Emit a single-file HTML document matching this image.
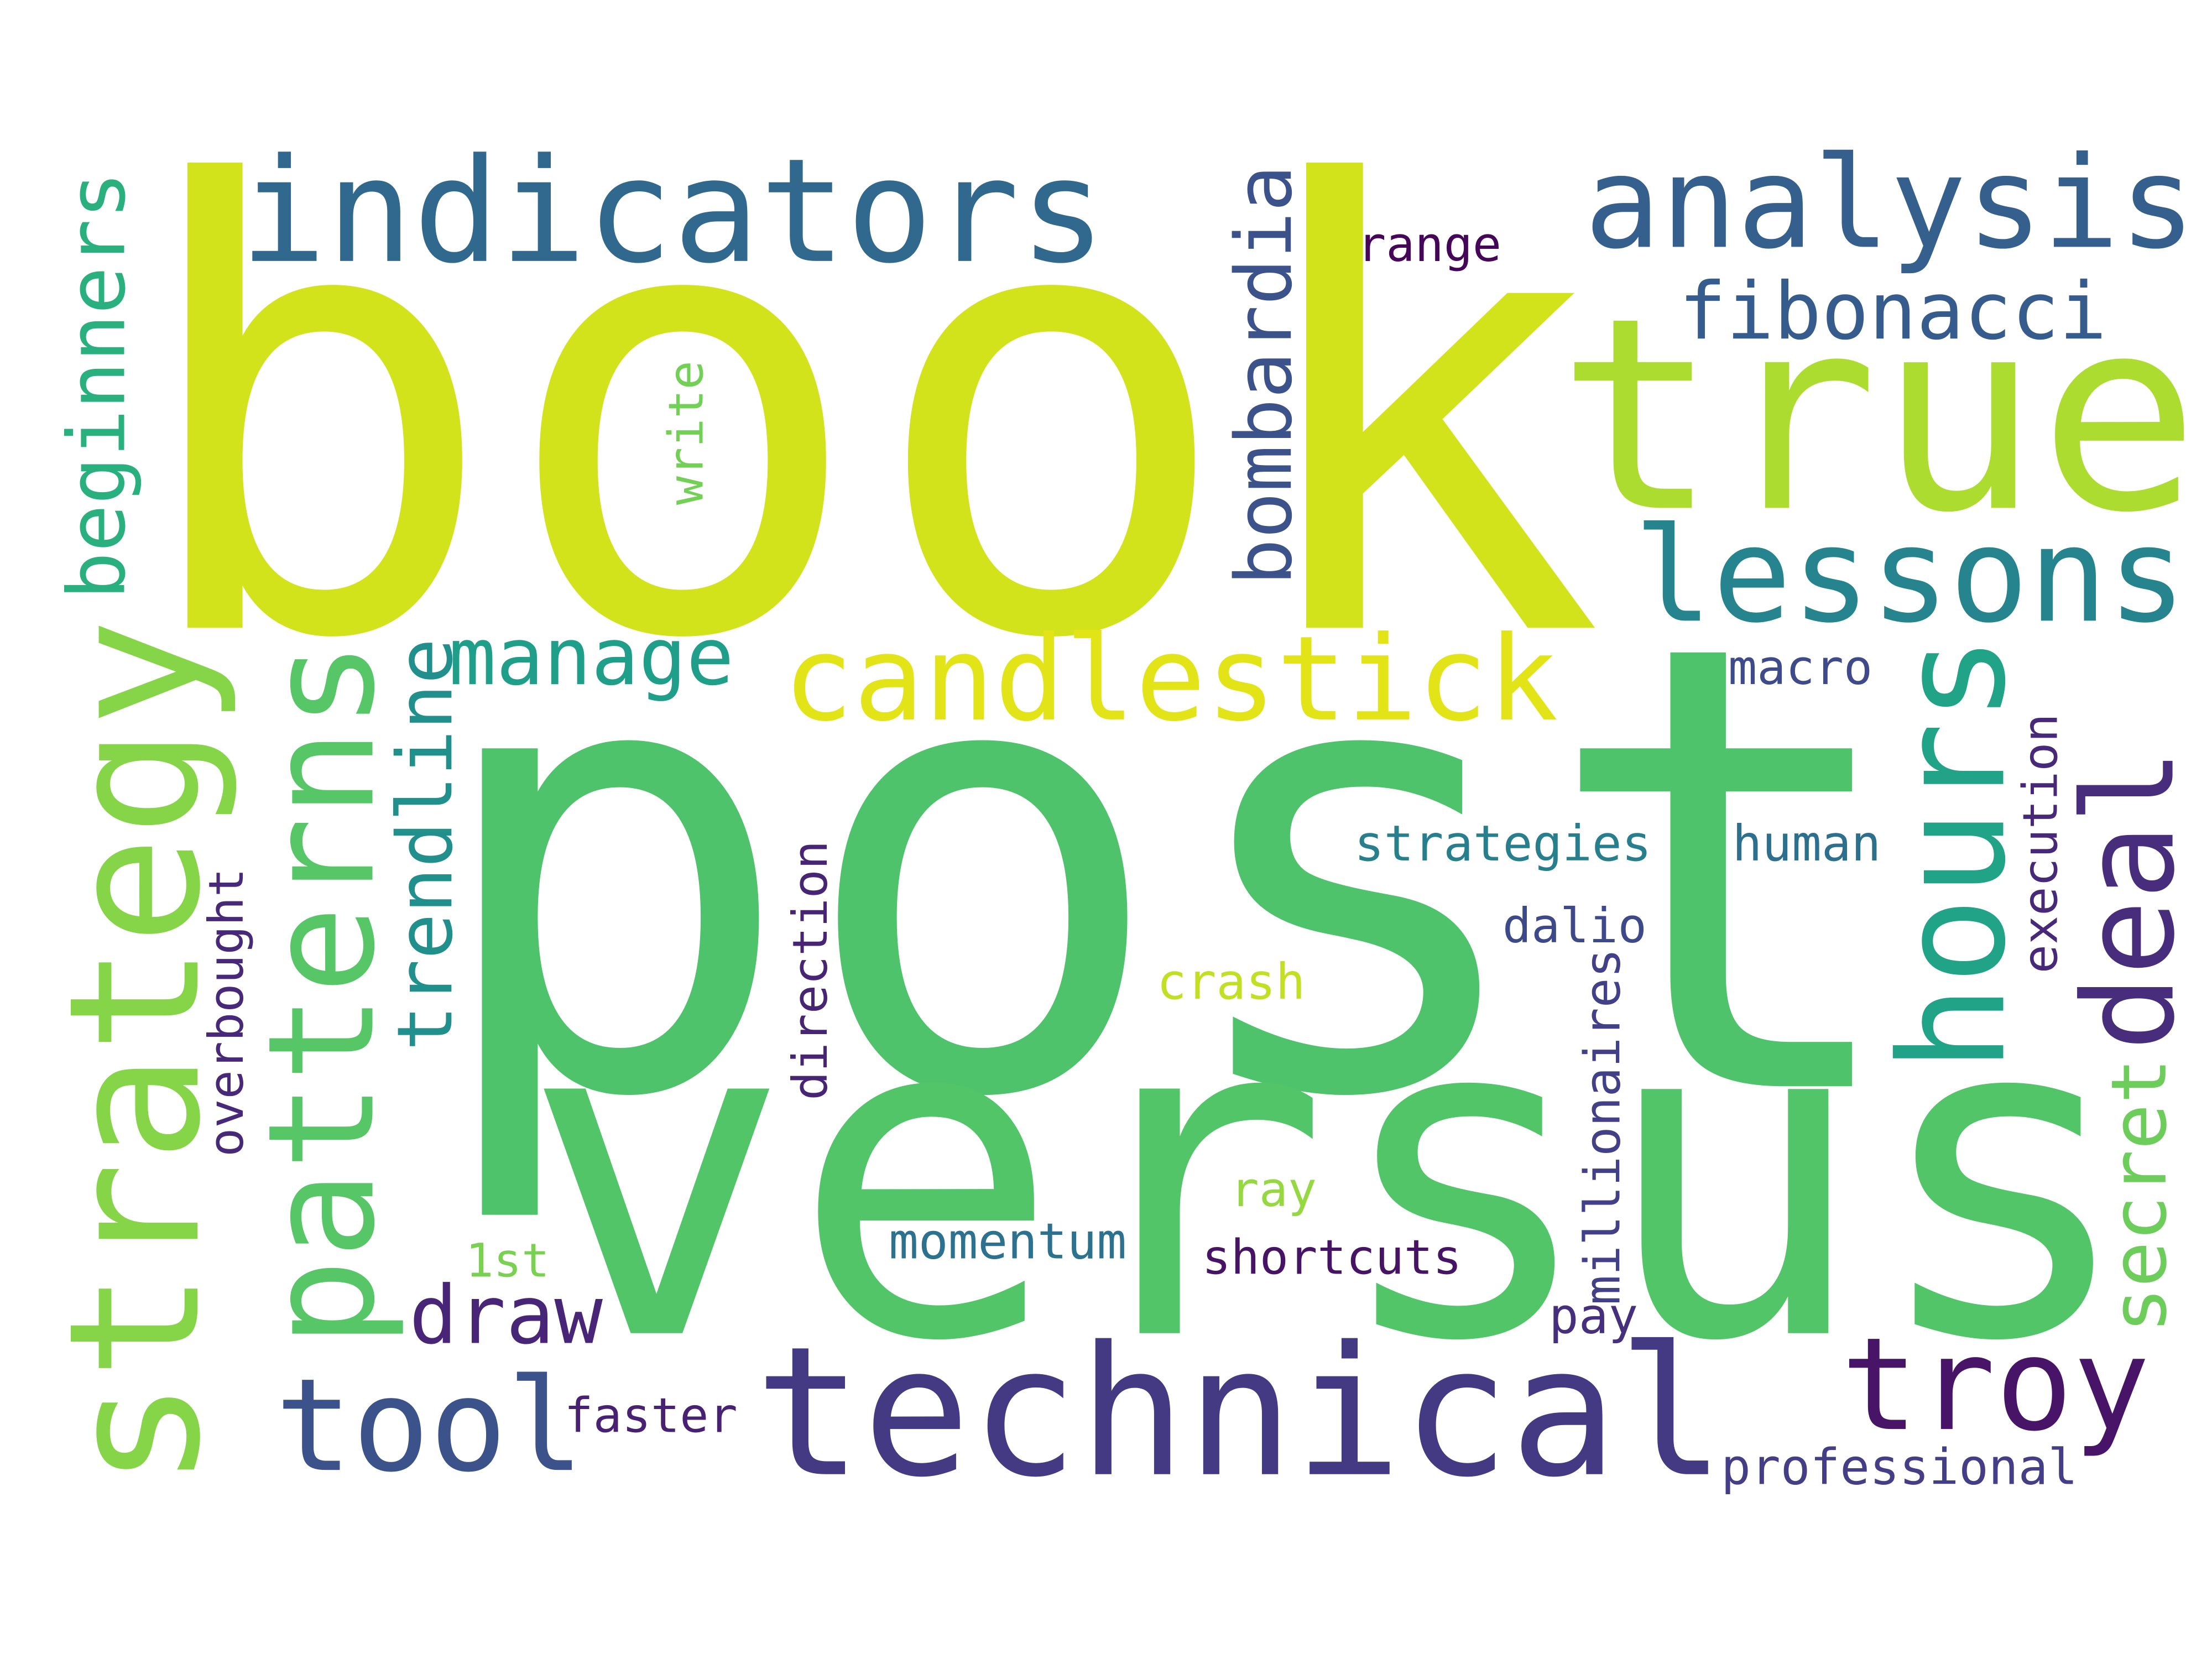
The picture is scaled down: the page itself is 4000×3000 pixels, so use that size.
<!DOCTYPE html>
<html><head><meta charset="utf-8"><style>
html,body{margin:0;padding:0;background:#fff;}
svg{display:block;}
text{font-family:"DejaVu Sans Mono","Liberation Mono",monospace;}
</style></head><body>
<svg width="4000" height="3000" viewBox="0 0 1568 1176" xmlns="http://www.w3.org/2000/svg">
<rect width="1568" height="1176" fill="#fff"/>
<g id="words"></g>
</svg>
<script>
// word, x, baseline y, font size, color, rotated
const words = ["book","post","versus","true","indicators","analysis","fibonacci","lessons","candlestick","manage","technical","tool","troy","draw","faster","1st","momentum","shortcuts","ray","crash","dalio","strategies","human","macro","range","pay","professional","strategy","beginners","patterns","trendline","overbought","write","bombardia","direction","hours","deal","execution","secret","millionaires"];
const xs = [92,301,370,1104,170,1123,1190,1158,555,318,535,195,1305,290,400,330,630,852,872,820,1065,960,1228,1225,962,1098,1220,140,88,264,320,172,498,915,586,1420,1540,1458,1535,1148];
const ys = [445,770,945,360,185,175,240,440,510,485,1045,1042,1013,952,1015,905,892,903,855,708,668,610,610,485,185,945,1052,1055,425,955,745,820,358,415,780,760,745,690,945,925];
const sizes = [434,438,317,189,102,90,56,93,83,56,127,91,91,57,34,33,35,34,34,35,34,35,35,34,34,35,35,128,56,104,54,34,34,55,34,103,89,34,54,35];
const colors = ["#d2e21b","#4ec36b","#52c569","#addc30","#31688e","#355f8d","#365c8d","#25848e","#e2e418","#1f9e89","#443983","#3b528b","#481467","#482576","#482173","#7ad151","#2c728e","#471365","#95d840","#c2df23","#3e4989","#277f8e","#2d708e","#3e4a89","#450559","#46307e","#433e85","#86d549","#2ab07f","#56c667","#21908d","#482878","#73d056","#3b528b","#482475","#20a386","#472d7b","#482878","#6ccd5a","#424086"];
const rotated = [0,0,0,0,0,0,0,0,0,0,0,0,0,0,0,0,0,0,0,0,0,0,0,0,0,0,0,1,1,1,1,1,1,1,1,1,1,1,1,1];
const g = document.getElementById('words');
for (let i = 0; i < words.length; i++) {
  const t = document.createElementNS('http://www.w3.org/2000/svg','text');
  t.textContent = words[i];
  t.setAttribute('font-size', sizes[i]);
  t.setAttribute('fill', colors[i]);
  if (rotated[i]) {
    t.setAttribute('transform', 'translate(' + xs[i] + ',' + ys[i] + ') rotate(-90)');
  } else {
    t.setAttribute('x', xs[i]);
    t.setAttribute('y', ys[i]);
  }
  
  
  g.appendChild(t);
}
</script>
</body></html>
